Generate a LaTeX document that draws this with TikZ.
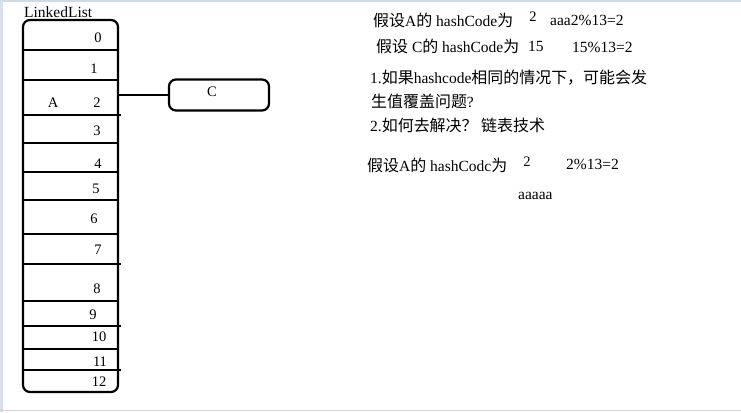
\documentclass[tikz,border=0pt]{standalone}
\usepackage{fontspec}
\setmainfont{Liberation Serif}
\newfontfamily\cjk[Scale=1.03]{Noto Sans CJK SC}
\newcommand{\zh}[1]{{\cjk #1}}
\tikzset{
  txt/.style={inner sep=0pt, anchor=west, font=\fontsize{15.5}{18}\selectfont},
  num/.style={inner sep=0pt, font=\fontsize{14.5}{17}\selectfont},
  boxline/.style={draw, line width=2.2pt, rounded corners=7pt},
  cellline/.style={line width=1.8pt},
}
\begin{document}
\begin{tikzpicture}[x=1pt,y=-1pt]
\path[use as bounding box, fill=white] (0,0) rectangle (741,412);
\draw[line width=2pt, color={rgb,255:red,205;green,218;blue,232}] (0,1) -- (741,1);
\draw[line width=3pt, color={rgb,255:red,215;green,225;blue,238}] (1.5,0) -- (1.5,412);
\draw[line width=1.5pt, color={rgb,255:red,215;green,210;blue,210}] (0,410.5) -- (741,410.5);

% table
\node[boxline, minimum width=95pt, minimum height=372pt, inner sep=0pt] (tbl) at (70.5,206) {};
\foreach \yy/\xe in {50/119,80/119,115/121,143/119,172/119,200/119,234/119,264/121,301/119,326/121,349/119,370/121}
  \draw[cellline] (23,\yy) -- (\xe,\yy);

\node[txt] (title) at (24,12) {LinkedList};
\node[num] (n0) at (98,38) {0};
\node[num] (n1) at (94,69) {1};
\node[num] (n2) at (97,103) {2};
\node[num] (n3) at (97,131) {3};
\node[num] (n4) at (98,164) {4};
\node[num] (n5) at (96,189) {5};
\node[num] (n6) at (94,219) {6};
\node[num] (n7) at (98,250) {7};
\node[num] (n8) at (97,289) {8};
\node[num] (n9) at (93,315) {9};
\node[num] (n10) at (99,337) {10};
\node[num] (n11) at (100,362) {11};
\node[num] (n12) at (99,382) {12};
\node[num] (A) at (53,103) {A};

% C box
\node[boxline, minimum width=100pt, minimum height=31pt, inner sep=0pt] (Cbox) at (219,95) {};
\node[num] (Clabel) at (212,92) {C};
\draw[cellline] (tbl.east |- Cbox.west) -- (Cbox.west);

% right text
\node[txt] (l1) at (373,20) {\zh{假设}A\zh{的} hashCode\zh{为}};
\node[num] (l1b) at (533,17) {2};
\node[txt] (l1c) at (550,20) {aaa2\%13=2};
\node[txt] (l2) at (376,46) {\zh{假设} C\zh{的} hashCode\zh{为}};
\node[txt] (l2b) at (528,46) {15};
\node[txt] (l2c) at (572,47) {15\%13=2};
\node[txt] (l3) at (370,78) {1.\zh{如果}hashcode\zh{相同的情况下，可能会发}};
\node[txt] (l4) at (371,101) {\zh{生值覆盖问题}?};
\node[txt] (l5) at (370,125) {2.\zh{如何去解决？ 链表技术}};
\node[txt] (l6) at (367,165) {\zh{假设}A\zh{的} hashCodc\zh{为}};
\node[num] (l6b) at (527,162) {2};
\node[txt] (l6c) at (566,164) {2\%13=2};
\node[txt] (l7) at (518,196) {aaaaa};
\end{tikzpicture}
\end{document}
